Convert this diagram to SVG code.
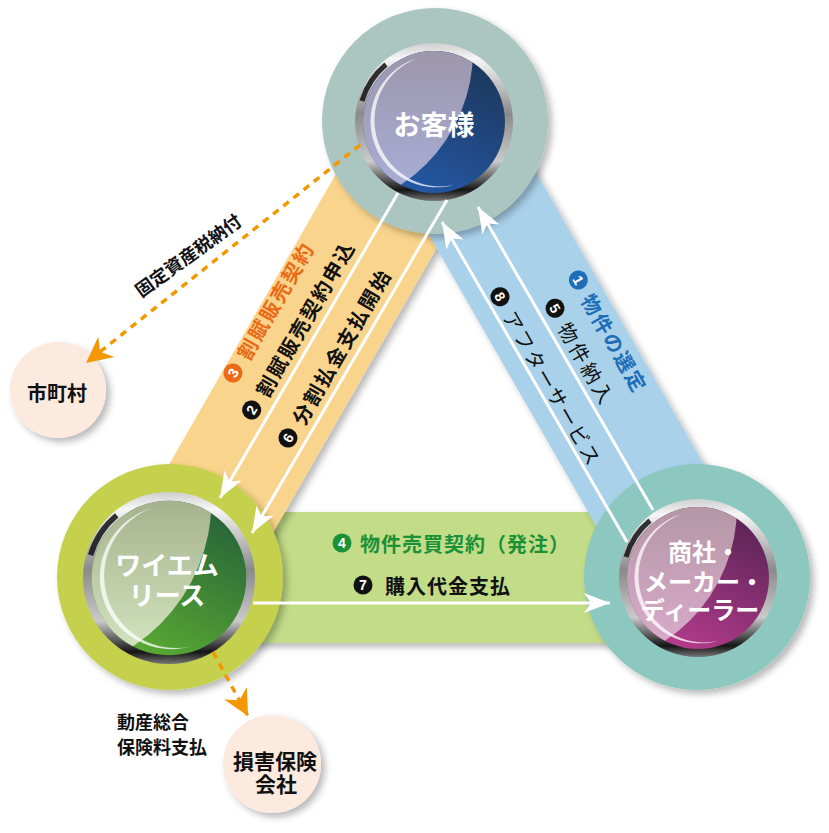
<svg xmlns="http://www.w3.org/2000/svg" width="829" height="833" viewBox="0 0 829 833">
<defs>
<style>
text { font-family: "Noto Sans CJK JP", "Noto Sans CJK SC", sans-serif; font-weight: bold; }
.node-label { fill: #fff; text-anchor: middle; dominant-baseline: central; }
.lbl { text-anchor: middle; dominant-baseline: central; font-size: 20px; fill: #111; }
.run { dominant-baseline: central; font-size: 20px; fill: #111; letter-spacing: 2px; }
.digit { font-family: "Liberation Sans", Arial, sans-serif; font-weight: bold; font-size: 14px; fill: #fff; text-anchor: middle; dominant-baseline: central; }
.thin { font-weight: normal; }
.small { font-size: 18px; fill: #111; }
.flow { stroke: #fff; stroke-width: 3; fill: none; marker-end: url(#arrow-white); }
.dash { stroke: #F39800; stroke-width: 3.5; stroke-dasharray: 7 6; fill: none; marker-end: url(#arrow-orange); }
.shadow { filter: url(#shadow); }
.crescent { fill: #fff; fill-opacity: 0.75; }
.darkarc { stroke: #111; stroke-width: 5; fill: none; stroke-opacity: 0.85; }
</style>
<filter id="shadow" x="-20%" y="-20%" width="140%" height="140%">
<feDropShadow dx="4" dy="4" stdDeviation="3.5" flood-color="#000" flood-opacity="0.28"/>
</filter>
<marker id="arrow-white" viewBox="-27 -11 28 22" refX="0" refY="0" markerWidth="28" markerHeight="22" markerUnits="userSpaceOnUse" orient="auto">
<path d="M0,0 L-26,-10 L-19,0 L-26,10 Z" fill="#fff"/>
</marker>
<marker id="arrow-orange" viewBox="-27 -14 28 28" refX="0" refY="0" markerWidth="28" markerHeight="28" markerUnits="userSpaceOnUse" orient="auto">
<path d="M0,0 L-26,-13 L-18,0 L-26,13 Z" fill="#F39800"/>
</marker>
<clipPath id="glass-clip"><circle r="71"/></clipPath>
<linearGradient id="ring" x1="0" y1="0" x2="0" y2="1">
<stop offset="0" stop-color="#cfcfcf"/>
<stop offset="0.1" stop-color="#f6f6f6"/>
<stop offset="0.45" stop-color="#8a8a8a"/>
<stop offset="0.75" stop-color="#cacaca"/>
<stop offset="0.93" stop-color="#151515"/>
<stop offset="1" stop-color="#777"/>
</linearGradient>
<linearGradient id="glass-blue" x1="0.8" y1="0" x2="0.3" y2="1">
<stop offset="0" stop-color="#1C3558"/>
<stop offset="1" stop-color="#2459A8"/>
</linearGradient>
<linearGradient id="hl-blue" gradientUnits="userSpaceOnUse" x1="0" y1="-71" x2="0" y2="71">
<stop offset="0" stop-color="#9D96AC"/>
<stop offset="1" stop-color="#A9AED6"/>
</linearGradient>
<linearGradient id="glass-green" x1="0.8" y1="0" x2="0.3" y2="1">
<stop offset="0" stop-color="#24603A"/>
<stop offset="1" stop-color="#5AAB32"/>
</linearGradient>
<linearGradient id="hl-green" gradientUnits="userSpaceOnUse" x1="0" y1="-71" x2="0" y2="71">
<stop offset="0" stop-color="#A6B28D"/>
<stop offset="1" stop-color="#D4E5C1"/>
</linearGradient>
<linearGradient id="glass-magenta" x1="0.8" y1="0" x2="0.3" y2="1">
<stop offset="0" stop-color="#572354"/>
<stop offset="1" stop-color="#B63C8D"/>
</linearGradient>
<linearGradient id="hl-magenta" gradientUnits="userSpaceOnUse" x1="0" y1="-71" x2="0" y2="71">
<stop offset="0" stop-color="#B497A5"/>
<stop offset="1" stop-color="#DAABCC"/>
</linearGradient>
<path id="crescent" d="M-15,-64.3 A66,66 0 0,0 20,63 A66.15,66.15 0 0,1 -15,-64.3 Z"/>
</defs>

<g id="bands">
<rect class="shadow" x="170" y="512" width="527" height="131" fill="#C2DC88"/>
<polygon class="shadow" points="122.2,546.1 384.2,90.1 491.8,151.9 229.8,607.9" fill="#F9D48C"/>
<polygon class="shadow" points="381.2,151.9 488.8,90.1 750.8,546.1 643.2,607.9" fill="#A9D1EA"/>
</g>

<g id="node-customer">
<circle class="shadow" cx="435" cy="121" r="113" fill="#ABC6C1"/>
<g transform="translate(434,122)">
<circle r="79" fill="url(#ring)"/>
<path class="darkarc" d="M-72,-21 A75,75 0 0,1 -48,-57.5"/>
<circle r="71" fill="url(#glass-blue)"/>
<circle cx="-121" cy="-71" r="160" fill="url(#hl-blue)" clip-path="url(#glass-clip)"/>
<use href="#crescent" class="crescent"/>
</g>
<text class="node-label" x="434" y="123" font-size="27">お客様</text>
</g>

<g id="node-ymlease">
<circle class="shadow" cx="170" cy="577" r="113" fill="#C5D04E"/>
<g transform="translate(169,578) scale(1.089)">
<circle r="79" fill="url(#ring)"/>
<path class="darkarc" d="M-72,-21 A75,75 0 0,1 -48,-57.5"/>
<circle r="71" fill="url(#glass-green)"/>
<circle cx="-121" cy="-71" r="160" fill="url(#hl-green)" clip-path="url(#glass-clip)"/>
<use href="#crescent" class="crescent"/>
</g>
<text class="node-label" font-size="26"><tspan x="167" y="563">ワイエム</tspan><tspan x="167" y="593">リース</tspan></text>
</g>

<g id="node-dealer">
<circle class="shadow" cx="697" cy="577" r="113" fill="#8CC8C0"/>
<g transform="translate(698,578)">
<circle r="79" fill="url(#ring)"/>
<path class="darkarc" d="M-72,-21 A75,75 0 0,1 -48,-57.5"/>
<circle r="71" fill="url(#glass-magenta)"/>
<circle cx="-121" cy="-71" r="160" fill="url(#hl-magenta)" clip-path="url(#glass-clip)"/>
<use href="#crescent" class="crescent"/>
</g>
<text class="node-label" font-size="24"><tspan x="704" y="550">商社・</tspan><tspan x="704" y="580">メーカー・</tspan><tspan x="700" y="608">ディーラー</tspan></text>
</g>

<g id="node-city">
<circle class="shadow" cx="58" cy="390" r="48" fill="#FCEADF"/>
<text class="lbl" x="57" y="392">市町村</text>
</g>

<g id="node-insurance">
<circle class="shadow" cx="272" cy="764" r="49" fill="#FCEADF"/>
<text class="lbl" style="font-size:21px"><tspan x="275" y="760">損害保険</tspan><tspan x="276" y="783">会社</tspan></text>
</g>

<g id="connectors">
<line class="flow" x1="398" y1="193" x2="220" y2="498"/>
<line class="flow" x1="447" y1="200" x2="252" y2="533"/>
<line class="flow" x1="627" y1="542" x2="442" y2="222"/>
<line class="flow" x1="653" y1="510" x2="478" y2="207"/>
<line class="flow" x1="253" y1="603" x2="610" y2="603"/>
<line class="dash" x1="360" y1="145" x2="86" y2="363"/>
<line class="dash" x1="213" y1="652" x2="248" y2="716"/>
</g>

<g id="labels">
<g transform="translate(233,373) rotate(-60)">
<circle r="9.5" fill="#EA6A16"/><text class="digit">3</text>
<text class="run" x="18" style="fill:#EA6A16">割賦販売契約</text>
</g>
<g transform="translate(251.7,410) rotate(-60)">
<circle r="9.5" fill="#111"/><text class="digit">2</text>
<text class="run" x="18">割賦販売契約申込</text>
</g>
<g transform="translate(288,438) rotate(-60)">
<circle r="9.5" fill="#111"/><text class="digit">6</text>
<text class="run" x="18">分割払金支払開始</text>
</g>
<g transform="translate(578.3,280) rotate(60)">
<circle r="9.5" fill="#1D6DB7"/><text class="digit">1</text>
<text class="run" x="18" style="fill:#1D6DB7">物件の選定</text>
</g>
<g transform="translate(555,308.3) rotate(60)">
<circle r="9.5" fill="#111"/><text class="digit">5</text>
<text class="run thin" x="18" style="letter-spacing:3px">物件納入</text>
</g>
<g transform="translate(500,296.7) rotate(60)">
<circle r="9.5" fill="#111"/><text class="digit">8</text>
<text class="run thin" x="18">アフターサービス</text>
</g>
<g transform="translate(342,543)">
<circle r="9.5" fill="#1A9037"/><text class="digit">4</text>
<text class="run" x="18" style="fill:#1A9037;letter-spacing:1px">物件売買契約（発注）</text>
</g>
<g transform="translate(363,585)">
<circle r="9.5" fill="#111"/><text class="digit">7</text>
<text class="run" x="22" style="letter-spacing:1px">購入代金支払</text>
</g>
<text class="lbl small" transform="translate(187.5,254.5) rotate(-36)">固定資産税納付</text>
<text class="small"><tspan x="117" y="729">動産総合</tspan><tspan x="117" y="754">保険料支払</tspan></text>
</g>
</svg>
